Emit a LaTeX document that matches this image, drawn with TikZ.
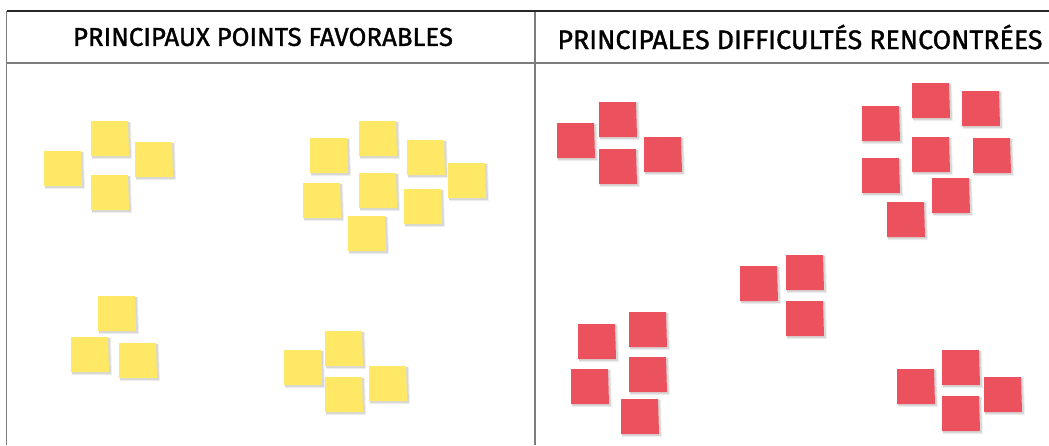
\documentclass[tikz,border=0pt]{standalone}
\usepackage{fontspec}
\setmainfont{Fira Sans}
\newfontfamily\hdrfont[FakeBold=1.3]{Fira Sans}
\definecolor{noteY}{RGB}{254,232,102}
\definecolor{noteR}{RGB}{235,82,94}
\definecolor{ruleC}{RGB}{125,125,125}
\newcommand{\postit}[3]{%
  \fill[black,opacity=0.06] (#2+1,#3+1) -- (#2+40,#3+1) -- (#2+41,#3+38) -- (#2+1,#3+38) -- cycle;
  \fill[black,opacity=0.10] (#2+1,#3+1) -- (#2+39,#3+1) -- (#2+40,#3+37) -- (#2+1,#3+37) -- cycle;
  \fill[#1] (#2,#3) -- (#2+37,#3) -- (#2+38,#3+35) -- (#2,#3+35) -- cycle;
}
\tikzset{
  header/.style={text=black, inner sep=0pt, anchor=center},
  frameline/.style={draw=ruleC, line width=1.5pt},
  topline/.style={draw=black!85, line width=1.2pt}
}
\begin{document}
\begin{tikzpicture}[x=1pt,y=-1pt]
\useasboundingbox (0,0) rectangle (1049,445);
\fill[white] (0,0) rectangle (1049,445);
% table
\coordinate (tl) at (6.5,11);
\coordinate (tr) at (1049,11);
\coordinate (hl) at (6.5,63);
\coordinate (hr) at (1049,63);
\coordinate (bl) at (6.5,445);
\coordinate (dt) at (535,11);
\coordinate (db) at (535,445);
\draw[frameline] (hl) -- (hr);
\draw[frameline] (tl) -- (bl);
\draw[frameline] (dt) -- (db);
\draw[topline] (tl) -- (tr);
\node[header] (h1) at (263,37) {\resizebox{380pt}{!}{\hdrfont\fontsize{22}{26}\selectfont PRINCIPAUX POINTS FAVORABLES}};
\node[header] (h2) at (800,37) {\resizebox{485pt}{!}{\hdrfont\fontsize{22}{26}\selectfont PRINCIPALES DIFFICULTÉS RENCONTRÉES}};
% yellow group 1
\postit{noteY}{44}{151}
\postit{noteY}{91}{121}
\postit{noteY}{135}{142}
\postit{noteY}{91}{175}
% yellow group 2
\postit{noteY}{310}{138}
\postit{noteY}{359}{121}
\postit{noteY}{407}{140}
\postit{noteY}{448}{163}
\postit{noteY}{303}{183}
\postit{noteY}{359}{173}
\postit{noteY}{404}{189}
\postit{noteY}{348}{216}
% yellow group 3
\postit{noteY}{98}{296}
\postit{noteY}{71}{337}
\postit{noteY}{119}{343}
% yellow group 4
\postit{noteY}{325}{331}
\postit{noteY}{284}{350}
\postit{noteY}{369}{366}
\postit{noteY}{325}{377}
% red group 1
\postit{noteR}{557}{123}
\postit{noteR}{599}{102}
\postit{noteR}{599}{149}
\postit{noteR}{644}{137}
% red group 2
\postit{noteR}{862}{106}
\postit{noteR}{912}{83}
\postit{noteR}{962}{91}
\postit{noteR}{912}{137}
\postit{noteR}{973}{138}
\postit{noteR}{862}{158}
\postit{noteR}{932}{178}
\postit{noteR}{887}{202}
% red group 3
\postit{noteR}{740}{266}
\postit{noteR}{786}{255}
\postit{noteR}{786}{301}
% red group 4
\postit{noteR}{629}{312}
\postit{noteR}{578}{324}
\postit{noteR}{629}{357}
\postit{noteR}{571}{369}
\postit{noteR}{621}{399}
% red group 5
\postit{noteR}{897}{369}
\postit{noteR}{942}{350}
\postit{noteR}{942}{396}
\postit{noteR}{984}{377}
\end{tikzpicture}
\end{document}
